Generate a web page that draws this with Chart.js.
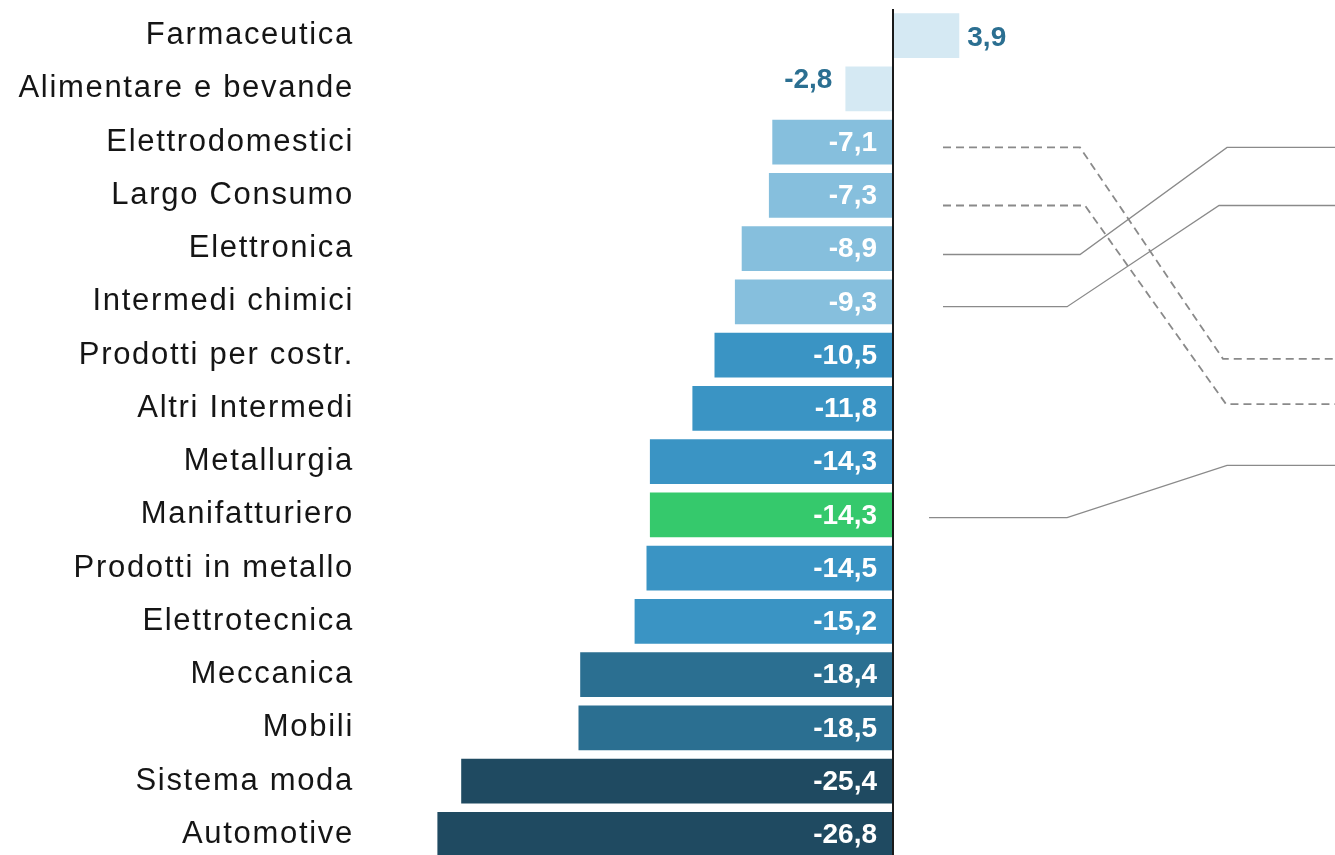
<!DOCTYPE html>
<html><head><meta charset="utf-8">
<script src="https://cdn.jsdelivr.net/npm/chart.js@4.4.1/dist/chart.umd.min.js"></script>
<style>html,body{margin:0;padding:0;background:#fff;overflow:hidden}#wrap{width:1335px;height:862px;position:relative}</style>
</head><body><div id="wrap"><canvas id="c"></canvas></div>
<script>
const categories = ["Farmaceutica","Alimentare e bevande","Elettrodomestici","Largo Consumo","Elettronica","Intermedi chimici","Prodotti per costr.","Altri Intermedi","Metallurgia","Manifatturiero","Prodotti in metallo","Elettrotecnica","Meccanica","Mobili","Sistema moda","Automotive"];
const values = [3.9,-2.8,-7.1,-7.3,-8.9,-9.3,-10.5,-11.8,-14.3,-14.3,-14.5,-15.2,-18.4,-18.5,-25.4,-26.8];
const barColors = ["#d5e9f3","#d5e9f3","#86bfdd","#86bfdd","#86bfdd","#86bfdd","#3a94c4","#3a94c4","#3a94c4","#35c96c","#3a94c4","#3a94c4","#2b6f91","#2b6f91","#1f4a61","#1f4a61"];

// connector (rank change) lines: x in value units, y in row-index units
const link1X = [2.94, 11.0, 19.41, 26];  const link1Y = [2.10, 2.10, 6.07, 6.07];
const link2X = [2.94, 11.29, 19.59, 26]; const link2Y = [3.19, 3.19, 6.92, 6.92];
const link3X = [2.94, 11.0, 19.65, 26];  const link3Y = [4.11, 4.11, 2.10, 2.10];
const link4X = [2.94, 10.24, 19.18, 26]; const link4Y = [5.09, 5.09, 3.19, 3.19];
const link5X = [2.12, 10.24, 19.65, 26]; const link5Y = [9.05, 9.05, 8.07, 8.07];
const links = [
  {xs: link1X, ys: link1Y, dashed: true},
  {xs: link2X, ys: link2Y, dashed: true},
  {xs: link3X, ys: link3Y, dashed: false},
  {xs: link4X, ys: link4Y, dashed: false},
  {xs: link5X, ys: link5Y, dashed: false}
];

const FONT = "'Liberation Sans', Arial, sans-serif";
const fmt = v => v.toFixed(1).replace('.', ',');
const SPACING = '1.7px';

const spacingPlugin = {
  id: 'spacing',
  beforeUpdate(chart){ chart.ctx.letterSpacing = SPACING; },
  beforeLayout(chart){ chart.ctx.letterSpacing = SPACING; },
  beforeDraw(chart){ chart.ctx.letterSpacing = SPACING; }
};

const labelPlugin = {
  id: 'valueLabels',
  afterDatasetsDraw(chart){
    const ctx = chart.ctx;
    const xs = chart.scales.x;
    const zero = xs.getPixelForValue(0);
    ctx.save();
    ctx.letterSpacing = '0px';
    ctx.strokeStyle = '#1a1a1a';
    ctx.lineWidth = 2;
    ctx.beginPath();
    ctx.moveTo(zero, chart.chartArea.top);
    ctx.lineTo(zero, chart.chartArea.bottom);
    ctx.stroke();
    const meta = chart.getDatasetMeta(0);
    ctx.font = "bold 28px " + FONT;
    ctx.textBaseline = 'middle';
    meta.data.forEach((bar, i) => {
      const v = values[i];
      const t = fmt(v);
      const y = bar.y + 1;
      if (Math.abs(v) < 5) {
        ctx.fillStyle = '#2b6f91';
        if (v >= 0) { ctx.textAlign = 'left'; ctx.fillText(t, bar.x + 8, y + 2); }
        else { ctx.textAlign = 'right'; ctx.fillText(t, bar.x - 13, y - 10); }
      } else {
        ctx.fillStyle = '#ffffff';
        ctx.textAlign = 'right';
        ctx.fillText(t, zero - 16, y);
      }
    });
    ctx.restore();
  }
};

const datasets = [{
  type: 'bar',
  data: values,
  backgroundColor: barColors,
  borderWidth: 0,
  grouped: false,
  categoryPercentage: 1,
  barPercentage: 0.845,
  xAxisID: 'x',
  yAxisID: 'y',
  order: 2
}];
links.forEach(l => {
  datasets.push({
    type: 'line',
    indexAxis: 'x',
    data: l.xs.map((x, k) => ({x: x, y: l.ys[k]})),
    xAxisID: 'x',
    yAxisID: 'y2',
    borderColor: '#8a8a8a',
    borderWidth: l.dashed ? 1.8 : 1.3,
    borderDash: l.dashed ? [8, 5] : [],
    pointRadius: 0,
    fill: false,
    tension: 0,
    order: 1
  });
});

new Chart(document.getElementById('c'), {
  type: 'bar',
  data: { labels: categories, datasets: datasets },
  options: {
    indexAxis: 'y',
    responsive: true,
    maintainAspectRatio: false,
    animation: false,
    events: [],
    layout: { padding: { top: 9, bottom: 1, left: 0, right: 0 } },
    plugins: { legend: { display: false }, tooltip: { enabled: false } },
    scales: {
      x: { type: 'linear', min: -27, max: 26, display: false },
      y: {
        type: 'category',
        position: 'left',
        grid: { display: false, drawTicks: false },
        border: { display: false },
        ticks: { color: '#151515', font: { family: FONT, size: 31 }, padding: 80, autoSkip: false },
        afterFit(scale){ scale.width = 434; scale.paddingTop = 0; scale.paddingBottom = 0; }
      },
      y2: { type: 'linear', axis: 'y', min: -0.5, max: 15.5, reverse: true, offset: false, grid: { offset: false }, display: false }
    }
  },
  plugins: [spacingPlugin, labelPlugin]
});
</script>
</body></html>
